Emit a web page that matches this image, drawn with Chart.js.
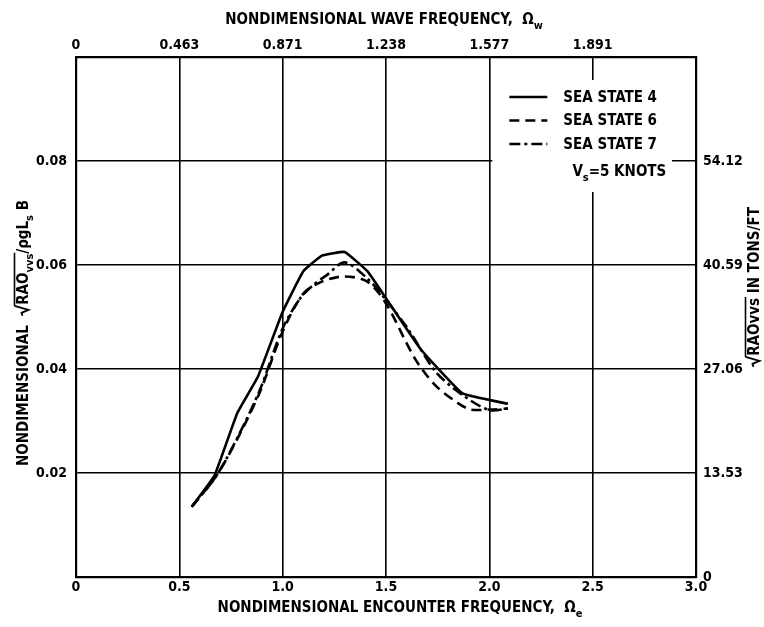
<!DOCTYPE html>
<html>
<head>
<meta charset="utf-8">
<script src="https://cdn.jsdelivr.net/npm/chart.js@4.4.0/dist/chart.umd.min.js"></script>
<style>
  html, body { margin: 0; background: #fff; }
</style>
</head>
<body>
<canvas id="c" width="764" height="627"></canvas>
<script>
// axis ticks
const xTicks = [0, 0.5, 1.0, 1.5, 2.0, 2.5, 3.0];
const topLabels = ["0", "0.463", "0.871", "1.238", "1.577", "1.891", ""];
const yTicks = [0, 0.02, 0.04, 0.06, 0.08, 0.10];
const leftLabels = ["", "0.02", "0.04", "0.06", "0.08", ""];
const rightLabels = ["0", "13.53", "27.06", "40.59", "54.12", ""];

// series (encounter frequency vs nondimensional RAO)
const ss4X = [0.56, 0.67, 0.78, 0.88, 1.00, 1.10, 1.19, 1.30, 1.41, 1.50, 1.67, 1.87, 2.09];
const ss4Y = [0.0135, 0.0195, 0.0315, 0.0385, 0.0510, 0.0588, 0.0618, 0.0625, 0.0588, 0.0536, 0.0437, 0.0353, 0.0333];

const ss6X = [0.56, 0.68, 0.79, 0.89, 1.00, 1.10, 1.19, 1.30, 1.41, 1.50, 1.64, 1.74, 1.85, 1.91, 2.00, 2.09];
const ss6Y = [0.0135, 0.0195, 0.0273, 0.0356, 0.0472, 0.0545, 0.0568, 0.0578, 0.0568, 0.0526, 0.0420, 0.0368, 0.0334, 0.0322, 0.0322, 0.0324];

const ss7X = [0.56, 0.68, 0.79, 0.89, 1.00, 1.085, 1.15, 1.215, 1.30, 1.41, 1.50, 1.61, 1.74, 1.87, 2.00, 2.09];
const ss7Y = [0.0135, 0.0195, 0.0275, 0.0360, 0.0478, 0.0536, 0.0562, 0.0581, 0.0605, 0.0574, 0.0533, 0.0475, 0.0395, 0.0350, 0.0321, 0.0324];

const seriesLabels = ["SEA STATE 4", "SEA STATE 6", "SEA STATE 7"];

const FONT = "'Liberation Sans Narrow', 'DejaVu Sans Condensed', sans-serif";

function pts(xs, ys) {
  return xs.map((x, i) => ({ x: x, y: ys[i] }));
}

// draws text made of pieces: plain, subscript, radical with overline
function rich(ctx, parts, cx, cy) {
  const big = "bold 15px " + FONT;
  const small = "bold 11px " + FONT;
  let w = 0;
  parts.forEach(p => {
    if (p.rad) { w += 11; return; }
    ctx.font = p.sub ? small : big;
    w += ctx.measureText(p.t).width;
  });
  let x = cx - w / 2;
  const base = cy + 5.5;
  let o0 = null, o1 = null;
  ctx.fillStyle = "#000";
  ctx.strokeStyle = "#000";
  ctx.textBaseline = "alphabetic";
  ctx.textAlign = "left";
  parts.forEach(p => {
    if (p.rad) {
      ctx.lineWidth = 1.8;
      ctx.beginPath();
      ctx.moveTo(x, base - 5);
      ctx.lineTo(x + 3, base - 6);
      ctx.lineTo(x + 6, base + 1);
      ctx.lineTo(x + 10, base - 13);
      ctx.stroke();
      o0 = x + 10; o1 = x + 10;
      x += 11;
      return;
    }
    ctx.font = p.sub ? small : big;
    ctx.fillText(p.t, x, base + (p.sub ? 5 : 0));
    x += ctx.measureText(p.t).width;
    if (p.over) o1 = x;
  });
  if (o0 !== null) {
    ctx.lineWidth = 1.6;
    ctx.beginPath();
    ctx.moveTo(o0, base - 13);
    ctx.lineTo(o1 + 1, base - 13);
    ctx.stroke();
  }
}

const titles = {
  id: "titles",
  afterDraw(chart) {
    const ctx = chart.ctx;
    ctx.save();
    rich(ctx, [{ t: "NONDIMENSIONAL WAVE FREQUENCY,  \u03A9" }, { t: "w", sub: true }], 384, 18);
    rich(ctx, [{ t: "NONDIMENSIONAL ENCOUNTER FREQUENCY,  \u03A9" }, { t: "e", sub: true }], 400, 606);
    ctx.save();
    ctx.translate(22, 333);
    ctx.rotate(-Math.PI / 2);
    rich(ctx, [{ t: "NONDIMENSIONAL  " }, { rad: true }, { t: "RAO", over: true }, { t: "vvs", sub: true, over: true },
      { t: "/" }, { t: "\u03C1gL" }, { t: "s", sub: true }, { t: " B" }], 0, 0);
    ctx.restore();
    ctx.save();
    ctx.translate(753, 287);
    ctx.rotate(-Math.PI / 2);
    rich(ctx, [{ rad: true }, { t: "RAO", over: true }, { t: "vvs", over: true }, { t: " IN TONS/FT" }], 0, 0);
    ctx.restore();
    ctx.restore();
  }
};

// legend sits on a white patch inside the plot, over the grid
const legendBox = {
  id: "legendBox",
  afterDatasetsDraw(chart) {
    const ctx = chart.ctx;
    const area = chart.chartArea;
    const left = chart.scales.x.getPixelForValue(2.0) + 3;
    const right = area.right - 24;
    const top = area.top + 23;
    const bottom = area.top + 135;
    ctx.save();
    ctx.fillStyle = "#fff";
    ctx.fillRect(left, top, right - left, bottom - top);
    chart.data.datasets.forEach((ds, i) => {
      const y = top + 17 + i * 23.5;
      ctx.strokeStyle = "#000";
      ctx.lineWidth = 2.6;
      ctx.setLineDash(ds.borderDash || []);
      ctx.beginPath();
      ctx.moveTo(left + 17, y);
      ctx.lineTo(left + 55, y);
      ctx.stroke();
      ctx.setLineDash([]);
      ctx.fillStyle = "#000";
      ctx.font = "bold 15px " + FONT;
      ctx.textAlign = "left";
      ctx.textBaseline = "middle";
      ctx.fillText(ds.label, left + 71, y + 1);
    });
    rich(ctx, [{ t: "V" }, { t: "s", sub: true }, { t: "=5 KNOTS" }], left + 127, top + 90);
    ctx.restore();
  }
};

const tickFont = { family: FONT, size: 14, weight: "bold" };

new Chart(document.getElementById("c"), {
  type: "line",
  data: {
    datasets: [
      { label: seriesLabels[0], data: pts(ss4X, ss4Y), borderColor: "#000", borderWidth: 2.6, pointRadius: 0, tension: 0.1 },
      { label: seriesLabels[1], data: pts(ss6X, ss6Y), borderColor: "#000", borderWidth: 2.6, pointRadius: 0, tension: 0.3, borderDash: [10, 6] },
      { label: seriesLabels[2], data: pts(ss7X, ss7Y), borderColor: "#000", borderWidth: 2.6, pointRadius: 0, tension: 0.3, borderDash: [11, 4, 3, 4] }
    ]
  },
  options: {
    responsive: false,
    animation: false,
    layout: { padding: 0 },
    plugins: { legend: { display: false }, tooltip: { enabled: false } },
    scales: {
      x: {
        type: "linear", position: "bottom", min: 0, max: 3,
        afterBuildTicks: s => { s.ticks = xTicks.map(v => ({ value: v })); },
        afterFit: s => { s.height = 50; },
        ticks: { color: "#000", font: tickFont, padding: 2, maxRotation: 0, callback: v => v === 0 ? "0" : v.toFixed(1) },
        grid: { color: "#000", lineWidth: 1.6, drawTicks: false },
        border: { color: "#000", width: 2.2 }
      },
      x2: {
        type: "linear", position: "top", min: 0, max: 3,
        afterBuildTicks: s => { s.ticks = xTicks.map(v => ({ value: v })); },
        afterFit: s => { s.height = 57; },
        ticks: { color: "#000", font: tickFont, padding: 3, maxRotation: 0, callback: (v, i) => topLabels[i] },
        grid: { display: false, drawTicks: false },
        border: { color: "#000", width: 2.2 }
      },
      y: {
        type: "linear", position: "left", min: 0, max: 0.10,
        afterBuildTicks: s => { s.ticks = yTicks.map(v => ({ value: v })); },
        afterFit: s => { s.width = 76; },
        ticks: { color: "#000", font: tickFont, padding: 9, callback: (v, i) => leftLabels[i] },
        grid: { color: "#000", lineWidth: 1.6, drawTicks: false },
        border: { color: "#000", width: 2.2 }
      },
      y2: {
        type: "linear", position: "right", min: 0, max: 0.10,
        afterBuildTicks: s => { s.ticks = yTicks.map(v => ({ value: v })); },
        afterFit: s => { s.width = 68; },
        ticks: { color: "#000", font: tickFont, padding: 7, callback: (v, i) => rightLabels[i] },
        grid: { display: false, drawTicks: false },
        border: { color: "#000", width: 2.2 }
      }
    }
  },
  plugins: [legendBox, titles]
});
</script>
</body>
</html>
